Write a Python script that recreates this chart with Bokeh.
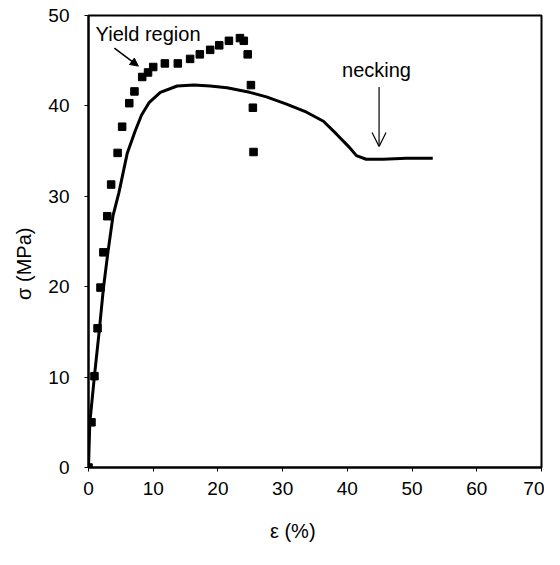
from bokeh.plotting import figure
from bokeh.models import Range1d, FixedTicker, Arrow, NormalHead, OpenHead, Label
from bokeh.embed import file_html
from bokeh.resources import INLINE

# measured data points (strain %, stress MPa)
strain_pts = [0, 0.46, 0.92, 1.4, 1.85, 2.3, 2.9, 3.5, 4.5, 5.2, 6.3, 7.1, 8.3, 9.2, 10.0,
              11.8, 13.8, 15.7, 17.2, 18.8, 20.2, 21.7, 23.4, 24.0, 24.6, 25.1, 25.4, 25.5]
stress_pts = [0, 5.0, 10.1, 15.4, 19.9, 23.8, 27.8, 31.3, 34.8, 37.7, 40.3, 41.6, 43.2, 43.7, 44.3,
              44.7, 44.7, 45.2, 45.7, 46.2, 46.7, 47.2, 47.5, 47.2, 45.7, 42.3, 39.8, 34.9]

# model curve
strain_curve = [0, 0.2, 0.9, 1.7, 2.3, 3.0, 3.8, 4.7, 6.0, 7.2, 8.2, 9.4, 11.1, 13.7, 16.3,
                18.8, 21.4, 24.9, 27.5, 30.6, 33.7, 36.3, 38.3, 40.2, 41.4, 42.9, 45.5, 49.1, 53.2]
stress_curve = [0, 4.9, 10.0, 15.4, 19.8, 23.8, 27.9, 30.4, 34.8, 37.2, 39.0, 40.4, 41.5, 42.2, 42.3,
                42.2, 42.0, 41.5, 41.0, 40.2, 39.3, 38.3, 36.9, 35.5, 34.5, 34.1, 34.1, 34.2, 34.2]

x_ticks = [0, 10, 20, 30, 40, 50, 60, 70]
y_ticks = [0, 10, 20, 30, 40, 50]

FONT = "Liberation Sans"
PAD = "\u00a0" * 8

p = figure(width=544, height=549, output_backend="svg", toolbar_location=None,
           x_range=Range1d(0, 70), y_range=Range1d(0, 50),
           min_border_left=88, min_border_right=3, min_border_top=15, min_border_bottom=82)
p.background_fill_color = "white"
p.border_fill_color = "white"
p.outline_line_color = "black"
p.outline_line_width = 2
p.xgrid.visible = False
p.ygrid.visible = False

for ax, ticks in ((p.xaxis, x_ticks), (p.yaxis, y_ticks)):
    ax.ticker = FixedTicker(ticks=ticks)
    ax.axis_line_width = 2
    ax.axis_line_color = "black"
    ax.major_tick_in = 0
    ax.major_tick_out = 4
    ax.major_tick_line_width = 1
    ax.minor_tick_line_color = None
    ax.major_label_text_font = FONT
    ax.major_label_text_font_size = "19px"
    ax.major_label_text_color = "black"
    ax.axis_label_text_font = FONT
    ax.axis_label_text_font_size = "20px"
    ax.axis_label_text_font_style = "normal"
    ax.axis_label_text_color = "black"

p.xaxis.axis_label = "ε (%)" + PAD
p.yaxis.axis_label = "σ (MPa)" + PAD
p.xaxis.major_label_standoff = 10
p.yaxis.major_label_standoff = 15
p.xaxis.axis_label_standoff = 22
p.yaxis.axis_label_standoff = 10

p.line(strain_curve, stress_curve, line_color="black", line_width=3)
p.scatter(strain_pts, stress_pts, marker="square", size=7.5, fill_color="black", line_color="black")

p.add_layout(Label(x=1.1, y=48.0, text="Yield region", text_font=FONT, text_font_size="20px",
                   text_color="black", text_baseline="middle"))
p.add_layout(Arrow(x_start=4.0, y_start=46.4, x_end=7.7, y_end=44.4, line_width=1.5,
                   end=NormalHead(size=8, fill_color="black", line_color="black")))

p.add_layout(Label(x=44.5, y=44.0, text="necking", text_font=FONT, text_font_size="20px",
                   text_color="black", text_align="center", text_baseline="middle"))
p.add_layout(Arrow(x_start=44.9, y_start=42.1, x_end=44.9, y_end=35.5, line_width=1.2,
                   end=OpenHead(size=14, line_width=1.2, line_color="black")))

open("out.html", "w").write(file_html(p, INLINE))
